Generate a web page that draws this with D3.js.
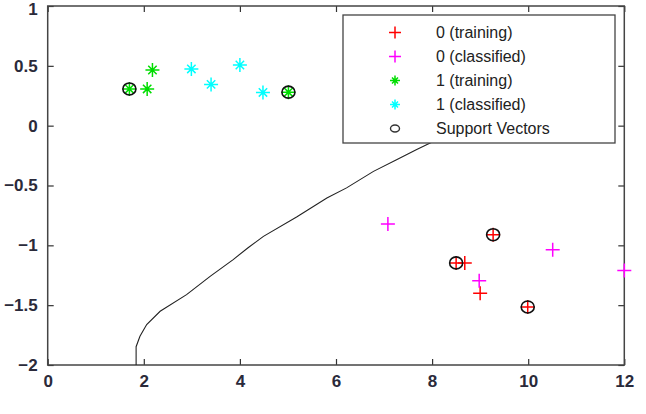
<!DOCTYPE html>
<html>
<head>
<meta charset="utf-8">
<script src="https://cdn.jsdelivr.net/npm/d3@7"></script>
<style>
  body { margin: 0; background: #fff; }
  svg { display: block; }
</style>
</head>
<body>
<svg id="chart" width="646" height="414"></svg>
<script>
// Data
const xTicks = [0, 2, 4, 6, 8, 10, 12];
const yTicks = [-2, -1.5, -1, -0.5, 0, 0.5, 1];

const train0 = [[8.68, -1.147], [9.0, -1.40], [9.27, -0.911], [8.50, -1.147], [9.99, -1.515]];
const class0 = [[7.08, -0.821], [10.51, -1.036], [12.0, -1.211], [8.98, -1.295]];
const train1 = [[1.70, 0.307], [2.07, 0.307], [2.18, 0.465], [5.01, 0.28]];
const class1 = [[2.99, 0.474], [3.40, 0.345], [4.0, 0.507], [4.48, 0.278]];
const supportVectors = [[1.70, 0.307], [5.01, 0.28], [9.27, -0.911], [8.50, -1.147], [9.99, -1.515]];

// separating line
const boundary = [
    [1.84, -2.0], [1.84, -1.847], [1.92, -1.76], [2.06, -1.662], [2.34, -1.551],
    [2.89, -1.412], [3.38, -1.259], [3.86, -1.119], [4.17, -1.02], [4.49, -0.925],
    [5.18, -0.763], [5.81, -0.604], [6.22, -0.52], [6.78, -0.382], [7.26, -0.284],
    [7.68, -0.20], [7.96, -0.145], [8.6, -0.03], [9.2, 0.08]
];

const legendItems = [
    { label: '0 (training)', color: '#ff0000', shape: 'plus' },
    { label: '0 (classified)', color: '#ff00ff', shape: 'plus' },
    { label: '1 (training)', color: '#00dd00', shape: 'star' },
    { label: '1 (classified)', color: '#00ffff', shape: 'star' },
    { label: 'Support Vectors', color: '#000', shape: 'circle' }
];

const svg = d3.select('#chart');
const font = '"Liberation Sans", Arial, sans-serif';

const x = d3.scaleLinear().domain([0, 12]).range([47.7, 624.3]);
const y = d3.scaleLinear().domain([-2, 1]).range([365, 6]);

svg.append('defs').append('clipPath').attr('id', 'clip')
    .append('rect')
    .attr('x', x(0)).attr('y', y(1))
    .attr('width', x(12) - x(0)).attr('height', y(-2) - y(1));

// axes (ticks inside, MATLAB style)
function styleAxis(g, labels) {
    g.select('.domain').remove();
    g.selectAll('.tick line').attr('stroke', '#333').attr('stroke-width', 1.2);
    g.selectAll('.tick text')
        .attr('font-family', font)
        .attr('font-size', 17)
        .attr('font-weight', 'bold')
        .attr('fill', '#2a2a3a');
    if (!labels) g.selectAll('.tick text').remove();
}

svg.append('g')
    .attr('transform', `translate(0,${y(-2)})`)
    .call(d3.axisBottom(x).tickValues(xTicks).tickSize(-6).tickPadding(10).tickFormat(d3.format('')))
    .call(g => styleAxis(g, true));

svg.append('g')
    .attr('transform', `translate(0,${y(1)})`)
    .call(d3.axisTop(x).tickValues(xTicks).tickSize(-6))
    .call(g => styleAxis(g, false));

svg.append('g')
    .attr('transform', `translate(${x(0)},0)`)
    .call(d3.axisLeft(y).tickValues(yTicks).tickSize(-6).tickPadding(10).tickFormat(d3.format('')))
    .call(g => styleAxis(g, true))
    // top label sits at the window edge; nudge it down so it stays visible
    .call(g => g.selectAll('.tick text').filter(d => d === 1).attr('dy', '0.5em'));

svg.append('g')
    .attr('transform', `translate(${x(12)},0)`)
    .call(d3.axisRight(y).tickValues(yTicks).tickSize(-6))
    .call(g => styleAxis(g, false));

// frame
svg.append('rect')
    .attr('x', x(0)).attr('y', y(1))
    .attr('width', x(12) - x(0)).attr('height', y(-2) - y(1))
    .attr('fill', 'none')
    .attr('stroke', '#444')
    .attr('stroke-width', 1.5);

const plot = svg.append('g').attr('clip-path', 'url(#clip)');

// boundary curve
plot.append('path')
    .datum(boundary)
    .attr('fill', 'none')
    .attr('stroke', '#222')
    .attr('stroke-width', 1.1)
    .attr('d', d3.line().x(d => x(d[0])).y(d => y(d[1])));

// marker helpers
function plusPath(s) {
    return `M${-s},0H${s}M0,${-s}V${s}`;
}
function starPath(s) {
    const d = s * 0.6;
    return `M${-s},0H${s}M0,${-s}V${s}M${-d},${-d}L${d},${d}M${-d},${d}L${d},${-d}`;
}

function drawMarks(data, color, shape) {
    svg.append('g')
        .selectAll('path')
        .data(data)
        .join('path')
        .attr('transform', d => `translate(${x(d[0])},${y(d[1])})`)
        .attr('d', shape === 'plus' ? plusPath(7) : starPath(7))
        .attr('fill', 'none')
        .attr('stroke', color)
        .attr('stroke-width', 1.5);
}

drawMarks(train0, '#ff0000', 'plus');
drawMarks(class0, '#ff00ff', 'plus');
drawMarks(train1, '#00dd00', 'star');
drawMarks(class1, '#00ffff', 'star');

svg.append('g')
    .selectAll('ellipse')
    .data(supportVectors)
    .join('ellipse')
    .attr('cx', d => x(d[0]))
    .attr('cy', d => y(d[1]))
    .attr('rx', 6.5)
    .attr('ry', 6)
    .attr('fill', 'none')
    .attr('stroke', '#111')
    .attr('stroke-width', 1.6);

// legend
const legend = svg.append('g');
legend.append('rect')
    .attr('x', 343).attr('y', 15)
    .attr('width', 272).attr('height', 128)
    .attr('fill', '#fff')
    .attr('stroke', '#444')
    .attr('stroke-width', 1.3);

const rowY = d3.scalePoint().domain(legendItems.map(d => d.label)).range([32.5, 128.5]);

const rows = legend.selectAll('g.row')
    .data(legendItems)
    .join('g')
    .attr('class', 'row')
    .attr('transform', d => `translate(0,${rowY(d.label)})`);

rows.filter(d => d.shape !== 'circle')
    .append('path')
    .attr('transform', 'translate(395,0)')
    .attr('d', d => d.shape === 'plus' ? plusPath(6) : starPath(5))
    .attr('fill', 'none')
    .attr('stroke', d => d.color)
    .attr('stroke-width', 1.5);

rows.filter(d => d.shape === 'circle')
    .append('ellipse')
    .attr('cx', 395).attr('cy', 0)
    .attr('rx', 4.5).attr('ry', 3.5)
    .attr('fill', 'none')
    .attr('stroke', '#333')
    .attr('stroke-width', 1.4);

rows.append('text')
    .attr('x', 436)
    .attr('y', 0)
    .attr('dy', '0.36em')
    .attr('font-family', font)
    .attr('font-size', 16)
    .attr('fill', '#222')
    .text(d => d.label);
</script>
</body>
</html>
